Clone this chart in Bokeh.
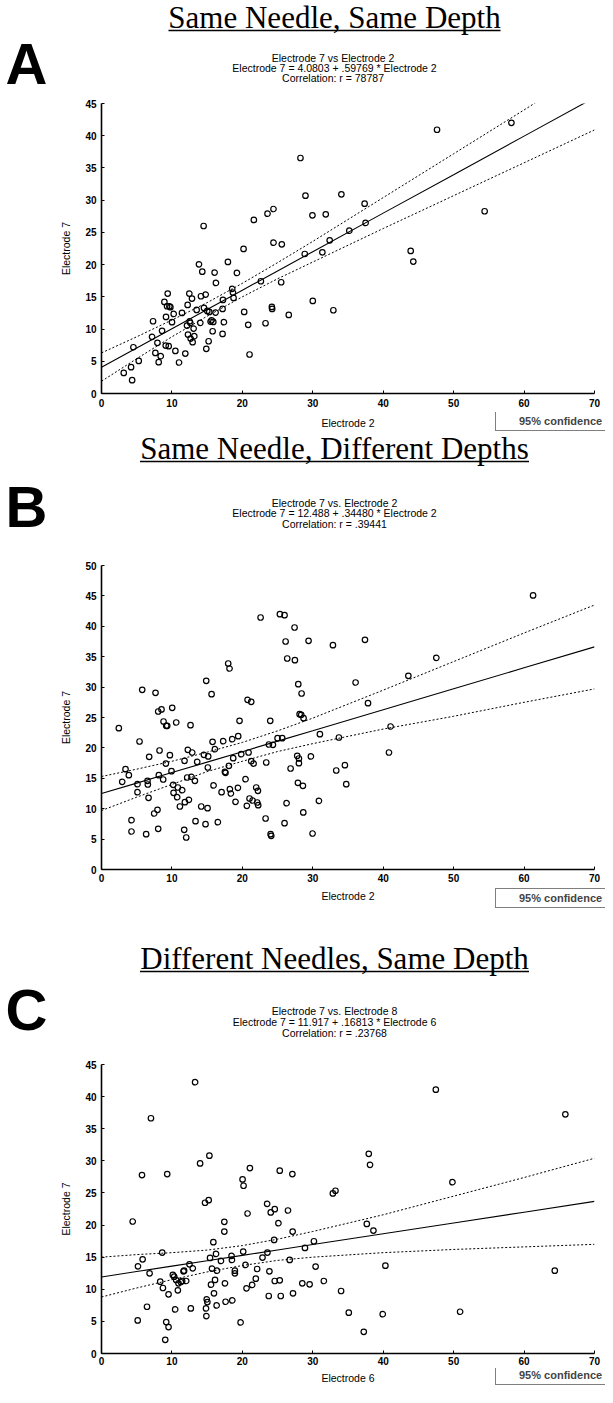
from bokeh.plotting import figure
from bokeh.models import Range1d, FixedTicker, Label, Arrow, Legend, LegendItem
from bokeh.layouts import column
from bokeh.embed import file_html
from bokeh.resources import INLINE

# ---------------- data ----------------
x_ticks = [0, 10, 20, 30, 40, 50, 60, 70]
fit_x = [0, 5, 10, 15, 20, 25, 30, 40, 50, 60, 70]

# Panel A: Same Needle, Same Depth (Electrode 7 vs Electrode 2)
A_x = [3.16, 4.20, 4.35, 4.53, 5.29, 7.32, 7.18, 7.65, 7.94, 8.12, 8.41, 8.60, 8.93, 9.12, 9.16,
       9.31, 9.40, 9.54, 9.64, 9.78, 10.01, 10.25, 10.49, 11.01, 11.43, 11.90, 12.23, 12.14, 12.28,
       12.47, 12.52, 12.61, 12.66, 12.85, 12.94, 13.08, 13.18, 13.51, 13.84, 14.03, 14.12, 14.31,
       14.50, 14.55, 14.79, 14.88, 15.02, 15.21, 15.30, 15.49, 15.64, 15.78, 15.87, 16.06, 16.20,
       16.25, 17.19, 17.19, 17.24, 17.38, 17.95, 18.56, 18.66, 18.75, 19.23, 20.17, 20.26, 20.83,
       21.02, 21.63, 22.63, 23.29, 23.57, 24.42, 24.42, 24.19, 24.23, 25.60, 25.51, 26.59, 28.25,
       28.86, 28.96, 29.95, 30.00, 31.36, 31.84, 32.40, 32.92, 34.06, 35.19, 37.36, 37.50, 43.90,
       44.27, 47.64, 54.40, 58.20]
A_y = [3.20, 4.08, 2.07, 7.18, 5.06, 11.21, 8.79, 6.30, 7.86, 4.86, 5.79, 9.72, 14.21, 7.44, 11.89,
       13.54, 15.50, 7.34, 13.54, 13.39, 11.06, 12.35, 6.61, 4.81, 12.51, 6.20, 13.75, 10.54, 9.15,
       15.50, 11.21, 10.96, 8.53, 14.73, 7.96, 10.08, 8.89, 12.97, 20.05, 10.96, 15.09, 18.91,
       25.99, 13.28, 15.35, 6.93, 12.82, 8.11, 12.66, 11.16, 11.37, 9.66, 11.11, 18.76, 12.56,
       17.16, 13.13, 9.25, 14.52, 11.06, 20.41, 16.23, 15.66, 14.83, 18.71, 22.43, 12.66, 10.65,
       6.05, 26.93, 17.42, 10.90, 27.91, 28.63, 23.41, 13.44, 13.13, 23.15, 17.26, 12.20, 36.54,
       21.65, 30.70, 27.65, 14.37, 21.91, 27.80, 23.77, 12.92, 30.90, 25.27, 29.46, 26.47, 22.12,
       20.47, 40.93, 28.28, 42.00]
A_fit = [4.08, 7.07, 10.06, 13.05, 16.03, 19.02, 22.01, 27.99, 33.96, 39.94, 45.92]
A_upper = [6.3, 8.8, 11.4, 14.1, 17.1, 20.3, 23.6, 30.4, 37.2, 44.0, 50.9]
A_lower = [1.9, 5.4, 8.8, 12.0, 15.0, 17.8, 20.4, 25.6, 30.7, 35.8, 40.9]
A_yticks = [0, 5, 10, 15, 20, 25, 30, 35, 40, 45]

# Panel B: Same Needle, Different Depths (Electrode 7 vs Electrode 2)
B_x = [2.46, 2.94, 3.41, 3.88, 4.26, 4.26, 5.11, 5.11, 5.40, 5.78, 6.34, 6.53, 6.58, 6.68, 6.77,
       7.48, 7.67, 7.95, 8.05, 8.14, 8.24, 8.05, 8.52, 8.76, 8.81, 9.19, 9.33, 9.14, 9.71, 9.94,
       10.04, 10.18, 10.23, 10.61, 10.75, 10.84, 11.13, 11.46, 11.74, 11.79, 11.84, 12.03, 12.17,
       12.26, 12.41, 12.64, 12.78, 12.88, 13.26, 13.35, 13.59, 14.16, 14.54, 14.77, 14.87, 15.06,
       15.10, 15.15, 15.63, 15.77, 15.91, 16.10, 16.52, 17.05, 17.28, 17.52, 17.61, 17.99, 18.09,
       18.18, 18.23, 18.37, 18.56, 18.70, 19.03, 19.37, 19.41, 19.60, 19.84, 20.45, 20.64, 20.74,
       20.88, 21.02, 21.26, 21.26, 21.45, 21.59, 21.97, 22.11, 22.21, 22.25, 22.59, 23.30, 23.39,
       23.77, 23.96, 24.01, 24.10, 24.34, 25.00, 25.33, 25.66, 25.99, 25.99, 26.14, 26.28, 26.37,
       26.85, 27.41, 27.46, 27.79, 27.89, 28.03, 28.03, 27.94, 28.13, 28.36, 28.41, 28.60, 28.65,
       28.69, 29.40, 29.73, 29.97, 30.87, 31.01, 32.86, 33.33, 33.71, 34.56, 34.75, 37.41, 36.08,
       37.84, 41.05, 40.82, 43.57, 47.54, 61.28]
B_y = [23.25, 14.42, 16.50, 15.52, 8.11, 6.25, 14.04, 12.72, 21.05, 29.55, 5.81, 14.58, 13.98,
       11.79, 18.53, 9.21, 29.06, 9.81, 6.69, 15.52, 19.57, 25.99, 26.32, 14.80, 24.34, 23.63,
       23.63, 17.43, 18.80, 16.17, 26.59, 13.93, 12.61, 24.18, 11.90, 13.49, 10.36, 13.05, 6.52,
       17.87, 11.07, 5.26, 15.13, 19.68, 11.46, 23.74, 15.24, 19.24, 14.58, 7.95, 17.71, 10.36,
       18.86, 7.46, 31.03, 10.09, 16.78, 18.59, 28.84, 21.00, 13.82, 19.79, 7.79, 12.72, 21.11,
       16.06, 15.90, 33.88, 17.05, 33.06, 13.21, 12.50, 21.44, 18.31, 11.13, 13.43, 21.93, 24.45,
       18.97, 14.86, 10.47, 27.91, 19.24, 11.68, 27.58, 17.82, 11.35, 17.43, 13.49, 11.02, 12.94,
       10.58, 41.45, 8.39, 17.60, 20.56, 24.45, 5.81, 5.54, 20.50, 21.60, 42.00, 21.60, 41.83,
       7.62, 37.50, 10.91, 34.70, 16.61, 39.80, 34.43, 18.70, 14.25, 18.26, 17.49, 30.48, 25.55,
       25.44, 28.95, 13.76, 9.38, 24.89, 37.61, 18.59, 5.92, 11.29, 22.26, 36.90, 16.28, 21.71,
       17.16, 14.04, 37.78, 30.76, 27.35, 23.52, 19.24, 31.86, 34.81, 45.07]
B_fit = [12.49, 14.21, 15.94, 17.66, 19.38, 21.11, 22.83, 26.28, 29.73, 33.18, 36.62]
B_upper = [15.3, 16.5, 17.8, 19.3, 20.9, 22.8, 24.9, 29.5, 34.2, 38.9, 43.5]
B_lower = [9.7, 11.9, 14.0, 16.1, 17.8, 19.4, 20.7, 23.1, 25.2, 27.5, 29.7]
B_yticks = [0, 5, 10, 15, 20, 25, 30, 35, 40, 45, 50]

# Panel C: Different Needles, Same Depth (Electrode 7 vs Electrode 6)
C_x = [4.43, 5.14, 5.18, 5.75, 5.84, 6.46, 6.83, 7.02, 8.34, 8.62, 8.72, 9.05, 9.19, 9.33, 9.52,
       9.52, 10.13, 10.32, 10.46, 10.60, 10.84, 10.93, 11.26, 11.45, 11.64, 11.73, 12.02, 12.49,
       12.68, 12.96, 13.29, 14.00, 14.70, 14.84, 14.89, 14.94, 15.03, 15.22, 15.32, 15.41, 15.55,
       15.69, 15.88, 15.97, 16.12, 16.26, 16.35, 16.40, 16.96, 17.44, 17.44, 17.53, 17.62, 18.47,
       18.52, 18.57, 18.94, 18.94, 19.75, 20.03, 20.12, 20.17, 20.45, 20.59, 20.74, 21.07, 21.39,
       21.91, 22.10, 22.86, 23.52, 23.56, 23.75, 23.84, 24.03, 24.60, 24.51, 24.60, 25.12, 25.31,
       25.31, 25.45, 26.48, 26.72, 27.10, 27.14, 27.19, 28.51, 28.89, 29.55, 30.16, 30.40, 31.57,
       32.85, 33.22, 34.02, 35.11, 37.95, 38.13, 37.67, 38.61, 40.31, 39.93, 37.24, 47.47, 49.83,
       50.92, 64.36, 65.86]
C_y = [20.55, 5.15, 13.58, 27.78, 14.67, 7.28, 12.49, 36.63, 11.19, 15.71, 10.20, 2.13, 4.89,
       27.94, 9.21, 4.11, 12.23, 11.97, 6.87, 11.45, 9.83, 10.93, 11.13, 11.29, 12.80, 12.90,
       11.29, 13.89, 7.02, 13.27, 42.25, 29.60, 23.47, 7.02, 5.83, 8.43, 8.01, 23.88, 30.80,
       14.88, 10.72, 13.22, 17.33, 9.37, 11.45, 15.50, 7.49, 12.90, 14.41, 20.50, 18.99, 10.93,
       8.06, 15.19, 14.57, 8.27, 12.90, 12.49, 4.84, 27.11, 15.87, 26.12, 13.79, 10.15, 21.80,
       28.88, 10.67, 11.65, 13.16, 14.93, 23.31, 15.71, 8.95, 12.80, 21.96, 22.48, 17.69, 11.29,
       20.29, 11.39, 28.46, 8.95, 22.27, 14.57, 27.94, 18.99, 9.37, 10.93, 16.44, 10.77, 17.48,
       13.53, 11.29, 24.92, 25.34, 9.73, 6.35, 31.09, 29.38, 20.17, 19.14, 13.68, 6.13, 3.38,
       41.08, 26.68, 6.50, 12.90, 37.24]
C_fit = [11.92, 12.76, 13.60, 14.44, 15.28, 16.12, 16.96, 18.64, 20.32, 22.00, 23.69]
C_upper = [15.0, 15.4, 15.7, 16.1, 16.8, 17.8, 19.0, 21.6, 24.5, 27.4, 30.4]
C_lower = [8.8, 10.2, 11.5, 12.7, 13.7, 14.5, 15.0, 15.7, 16.2, 16.6, 17.0]
C_yticks = [0, 5, 10, 15, 20, 25, 30, 35, 40, 45]

headings = ["Same Needle, Same Depth", "Same Needle, Different Depths",
            "Different Needles, Same Depth"]
letters = ["A", "B", "C"]
subtitles = [
    ["Electrode 7 vs  Electrode 2", "Electrode 7 = 4.0803 + .59769 * Electrode 2",
     "Correlation: r =  78787"],
    ["Electrode 7 vs. Electrode 2", "Electrode 7 = 12.488 + .34480 * Electrode 2",
     "Correlation: r = .39441"],
    ["Electrode 7 vs. Electrode 8", "Electrode 7 = 11.917 + .16813 * Electrode 6",
     "Correlation: r = .23768"],
]
x_labels = ["Electrode 2", "Electrode 2", "Electrode 6"]

SANS = "Liberation Sans"
SERIF = "Liberation Serif"
W = 605            # total width of every block (page x 8 .. 613)
HEAD_CX = 334      # heading / subtitle centre (block pixels)
XLAB_CX = 347.5    # centre of plot frame (block pixels)


def text_block(h):
    """A plain figure whose frame is the whole block, in pixel coordinates (y down)."""
    f = figure(frame_width=W, frame_height=h, min_border=0, min_border_left=0,
               min_border_right=0, min_border_top=0, min_border_bottom=0,
               x_range=Range1d(0, W), y_range=Range1d(h, 0),
               x_axis_type=None, y_axis_type=None, frame_align=False,
               output_backend="svg", toolbar_location=None, tools="")
    f.outline_line_color = None
    f.grid.visible = False
    f.background_fill_color = "white"
    f.border_fill_color = "white"
    return f


def add_header(f, i, y_head_mid, y_letter_mid, y_subs):
    f.add_layout(Label(x=HEAD_CX, y=y_head_mid, text=headings[i], text_align="center",
                       text_baseline="middle", text_font=SERIF, text_font_size="31px",
                       text_color="black"))
    hw = [332, 389, 389][i]
    f.add_layout(Arrow(start=None, end=None, x_start=HEAD_CX - hw / 2, y_start=y_head_mid + 13,
                       x_end=HEAD_CX + hw / 2, y_end=y_head_mid + 13,
                       line_color="black", line_width=1.5))
    f.add_layout(Label(x=5, y=y_letter_mid, text=letters[i], text_align="left",
                       text_baseline="middle", text_font=SANS, text_font_style="bold",
                       text_font_size="58px", text_color="black"))
    for s, yy in zip(subtitles[i], y_subs):
        f.add_layout(Label(x=HEAD_CX, y=yy, text=s, text_align="center",
                           text_baseline="middle", text_font=SANS, text_font_size="10.5px",
                           text_color="black"))


def add_footer(f, i, h, y_xlab, legend_top):
    f.add_layout(Label(x=XLAB_CX, y=y_xlab, text=x_labels[i], text_align="center",
                       text_baseline="middle", text_font=SANS, text_font_size="10.5px",
                       text_color="black"))
    r_line = f.line([], [], line_color="black", line_width=1, line_dash="2 2")
    r_pt = f.scatter([], [], marker="circle", size=5.5, fill_color=None,
                     line_color="black", line_width=1.2)
    legend_h = 16
    leg = Legend(items=[LegendItem(label="95% confidence", renderers=[r_line, r_pt])],
                 location=(495, h - legend_top - legend_h), orientation="vertical",
                 label_text_font=SANS, label_text_font_style="bold",
                 label_text_font_size="11px", label_height=10, label_standoff=4,
                 glyph_width=16, glyph_height=10, padding=3, margin=0, spacing=0,
                 border_line_color="black", border_line_width=1,
                 background_fill_color="white", background_fill_alpha=1.0)
    f.add_layout(leg)


def plot_block(xs, ys, fit, upper, lower, yticks, frame_h, top, bottom, lab_standoff):
    p = figure(frame_width=493, frame_height=frame_h,
               min_border_left=101, min_border_right=11,
               min_border_top=top, min_border_bottom=bottom,
               x_range=Range1d(0, 70), y_range=Range1d(0, yticks[-1]),
               frame_align=False,
               output_backend="svg", toolbar_location=None, tools="")
    p.outline_line_color = None
    p.grid.visible = False
    p.background_fill_color = "white"
    p.border_fill_color = "white"
    for ax in (p.xaxis[0], p.yaxis[0]):
        ax.axis_line_color = "black"
        ax.axis_line_width = 1.6
        ax.major_tick_in = 3
        ax.major_tick_out = 0
        ax.major_tick_line_color = "black"
        ax.minor_tick_line_color = None
        ax.major_label_text_font = SANS
        ax.major_label_text_font_style = "bold"
        ax.major_label_text_font_size = "10px"
        ax.major_label_text_color = "black"
        ax.axis_label_text_font = SANS
        ax.axis_label_text_font_style = "normal"
        ax.axis_label_text_font_size = "10.5px"
        ax.axis_label_text_color = "black"
    p.xaxis.ticker = FixedTicker(ticks=x_ticks, minor_ticks=[])
    p.yaxis.ticker = FixedTicker(ticks=yticks, minor_ticks=[])
    p.yaxis.axis_label = "Electrode 7"
    p.xaxis.major_label_standoff = lab_standoff
    p.yaxis.major_label_standoff = 5
    p.yaxis.axis_label_standoff = 10

    p.line(fit_x, fit, line_color="black", line_width=1.1)
    p.line(fit_x, upper, line_color="black", line_width=1, line_dash="2 2")
    p.line(fit_x, lower, line_color="black", line_width=1, line_dash="2 2")
    p.scatter(xs, ys, marker="circle", size=5.5, fill_color=None,
              line_color="black", line_width=1.2)
    return p


# header of A (page y 8..105)
hA = text_block(97)
add_header(hA, 0, 17, 63, [57, 67, 77])
pA = plot_block(A_x, A_y, A_fit, A_upper, A_lower, A_yticks, 290, 6, 19, 5)

# footer of A + header of B (page y 420..565)
gAB = text_block(145)
add_footer(gAB, 0, 145, 10, 3)
add_header(gAB, 1, 36, 94, [90, 100.5, 111])
pB = plot_block(B_x, B_y, B_fit, B_upper, B_lower, B_yticks, 304, 8, 17, 4)

# footer of B + header of C (page y 894..1064)
gBC = text_block(170)
add_footer(gBC, 1, 170, 9, 6)
add_header(gBC, 2, 72, 123, [124.5, 135.5, 146.5])
pC = plot_block(C_x, C_y, C_fit, C_upper, C_lower, C_yticks, 289, 8, 15, 3)

# footer of C (page y 1376..1395)
gC = text_block(19)
add_footer(gC, 2, 19, 9, 1)

layout = column(hA, pA, gAB, pB, gBC, pC, gC, spacing=0)
open("out.html", "w").write(file_html(layout, INLINE))
